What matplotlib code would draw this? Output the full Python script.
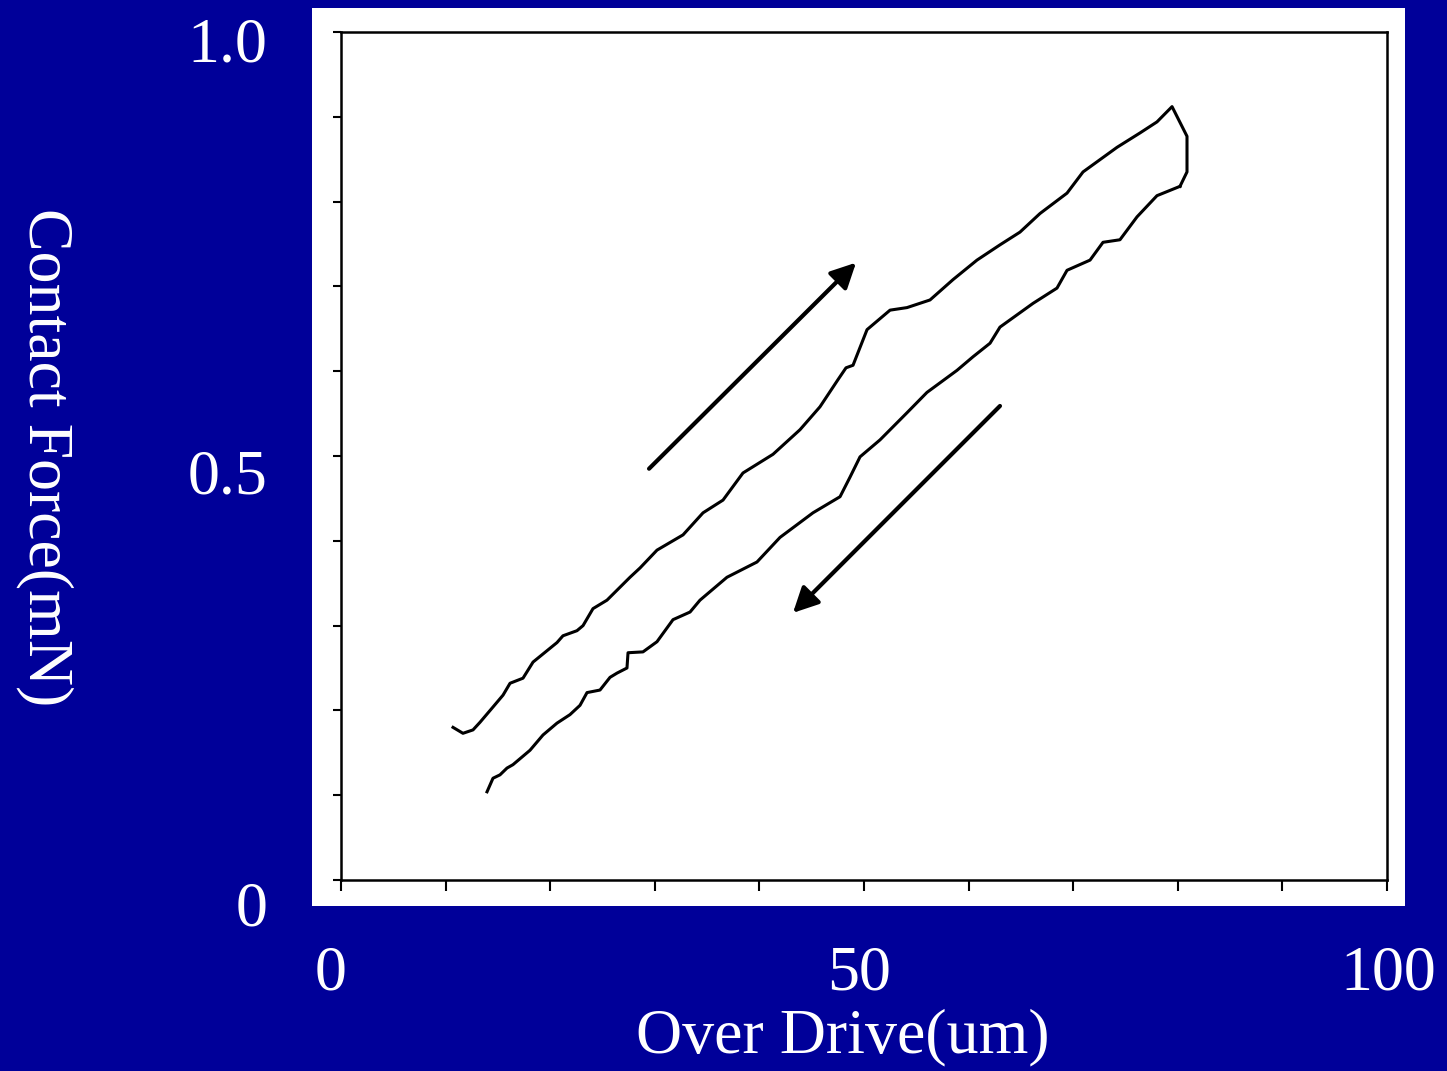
"""
Contact force vs over drive hysteresis plot, slide style.
"""

import matplotlib.pyplot as plt
from matplotlib.patches import Rectangle

# =============================================================================
# Data
# =============================================================================

# loading branch (going up)
load_x = [10.71, 11.66, 12.62, 13.29, 14.53, 15.49, 16.16, 17.40, 18.36, 20.65,
          21.22, 22.56, 23.14, 24.09, 25.43, 27.63, 28.59, 30.21, 32.70, 34.61,
          36.52, 38.43, 41.30, 43.88, 45.79, 47.51, 48.28, 48.95, 49.62, 50.29,
          52.49, 54.11, 56.31, 58.51, 60.80, 63.00, 64.91, 66.83, 69.41, 70.94,
          74.19, 76.39, 78.01, 79.45, 80.88, 80.88, 80.21]
load_y = [0.180, 0.173, 0.177, 0.186, 0.204, 0.218, 0.232, 0.238, 0.257, 0.280,
          0.288, 0.294, 0.300, 0.320, 0.330, 0.357, 0.368, 0.389, 0.407, 0.433,
          0.448, 0.480, 0.502, 0.531, 0.558, 0.590, 0.604, 0.607, 0.628, 0.649,
          0.672, 0.675, 0.684, 0.708, 0.731, 0.749, 0.764, 0.786, 0.810, 0.835,
          0.864, 0.881, 0.894, 0.912, 0.877, 0.835, 0.818]

# unloading branch (going down)
unload_x = [80.21, 78.01, 76.10, 74.47, 72.85, 71.61, 69.41, 68.45, 66.16, 63.00,
            62.05, 60.42, 58.89, 56.02, 54.11, 51.53, 49.62, 48.66, 47.71, 45.12,
            41.97, 39.77, 36.90, 34.32, 33.37, 31.74, 30.21, 28.87, 27.44, 27.34,
            26.39, 25.72, 24.76, 23.52, 22.85, 21.89, 20.65, 19.31, 18.07, 16.44,
            15.87, 15.20, 14.53, 13.96]
unload_y = [0.818, 0.807, 0.782, 0.755, 0.752, 0.731, 0.719, 0.698, 0.680, 0.652,
            0.633, 0.617, 0.601, 0.575, 0.551, 0.519, 0.499, 0.475, 0.452, 0.433,
            0.404, 0.375, 0.357, 0.330, 0.316, 0.307, 0.281, 0.269, 0.268, 0.250,
            0.244, 0.239, 0.224, 0.221, 0.206, 0.195, 0.185, 0.171, 0.153, 0.136,
            0.132, 0.124, 0.120, 0.104]

# direction arrows: (tail, tip)
arrow_up = ((29.45, 0.485), (49.24, 0.728))
arrow_down = ((63.00, 0.559), (43.21, 0.315))

x_ticks = [0, 10, 20, 30, 40, 50, 60, 70, 80, 90, 100]
y_ticks = [0.0, 0.1, 0.2, 0.3, 0.4, 0.5, 0.6, 0.7, 0.8, 0.9, 1.0]
x_labels = ["0", "50", "100"]
x_label_pos = [0, 50, 100]
y_labels = ["0", "0.5", "1.0"]
y_label_pos = [0, 0.5, 1.0]

BG = "#000099"
SERIF = ["Liberation Serif", "DejaVu Serif"]
W, H = 1447, 1071

# =============================================================================
# Figure
# =============================================================================

fig = plt.figure(figsize=(W / 100, H / 100), dpi=100, facecolor=BG)

# white panel behind the plot
fig.patches.append(Rectangle(
    (312 / W, 1 - 906 / H), (1405 - 312) / W, (906 - 8) / H,
    transform=fig.transFigure, facecolor="white", edgecolor="none", zorder=-1,
))

ax = fig.add_axes([341 / W, 1 - 880 / H, (1387 - 341) / W, (880 - 32) / H])
ax.set_facecolor("white")
ax.plot(load_x, load_y, color="black", lw=2.2)
ax.plot(unload_x, unload_y, color="black", lw=2.2)

for tail, tip in (arrow_up, arrow_down):
    ax.annotate(
        "", xy=tip, xytext=tail,
        arrowprops=dict(arrowstyle="-|>", lw=3, color="black",
                        mutation_scale=38, shrinkA=0, shrinkB=0),
    )

ax.set_xlim(0, 100)
ax.set_ylim(0, 1)
ax.set_xticks(x_ticks)
ax.set_yticks(y_ticks)
ax.set_xticklabels([])
ax.set_yticklabels([])
ax.tick_params(axis="x", direction="out", length=8, width=1.5, color="black")
ax.tick_params(axis="y", direction="out", length=6, width=1.5, color="black")
for sp in ax.spines.values():
    sp.set_linewidth(1.8)
    sp.set_color("black")

# label layer: slide text sits offset from the real ticks
lab = fig.add_axes([331 / W, 1 - 904 / H, (1388 - 331) / W, (904 - 39) / H])
lab.patch.set_visible(False)
for sp in lab.spines.values():
    sp.set_visible(False)
lab.set_xlim(0, 100)
lab.set_ylim(0, 1)
lab.set_xticks(x_label_pos, x_labels)
lab.set_yticks(y_label_pos, y_labels)
lab.tick_params(axis="x", length=0, pad=30, labelsize=46, labelcolor="white")
lab.tick_params(axis="y", length=0, pad=46, labelsize=46, labelcolor="white")
for t in lab.get_xticklabels() + lab.get_yticklabels():
    t.set_family(SERIF)

fig.text(843 / W, 1 - 1037 / H, "Over Drive(um)", color="white",
         fontsize=46, family=SERIF, ha="center", va="center")
fig.text(45 / W, 1 - 457 / H, "Contact Force(mN)", color="white",
         fontsize=46, family=SERIF, ha="center", va="center", rotation=270)

fig.savefig("out.png", dpi=100, facecolor=BG)
